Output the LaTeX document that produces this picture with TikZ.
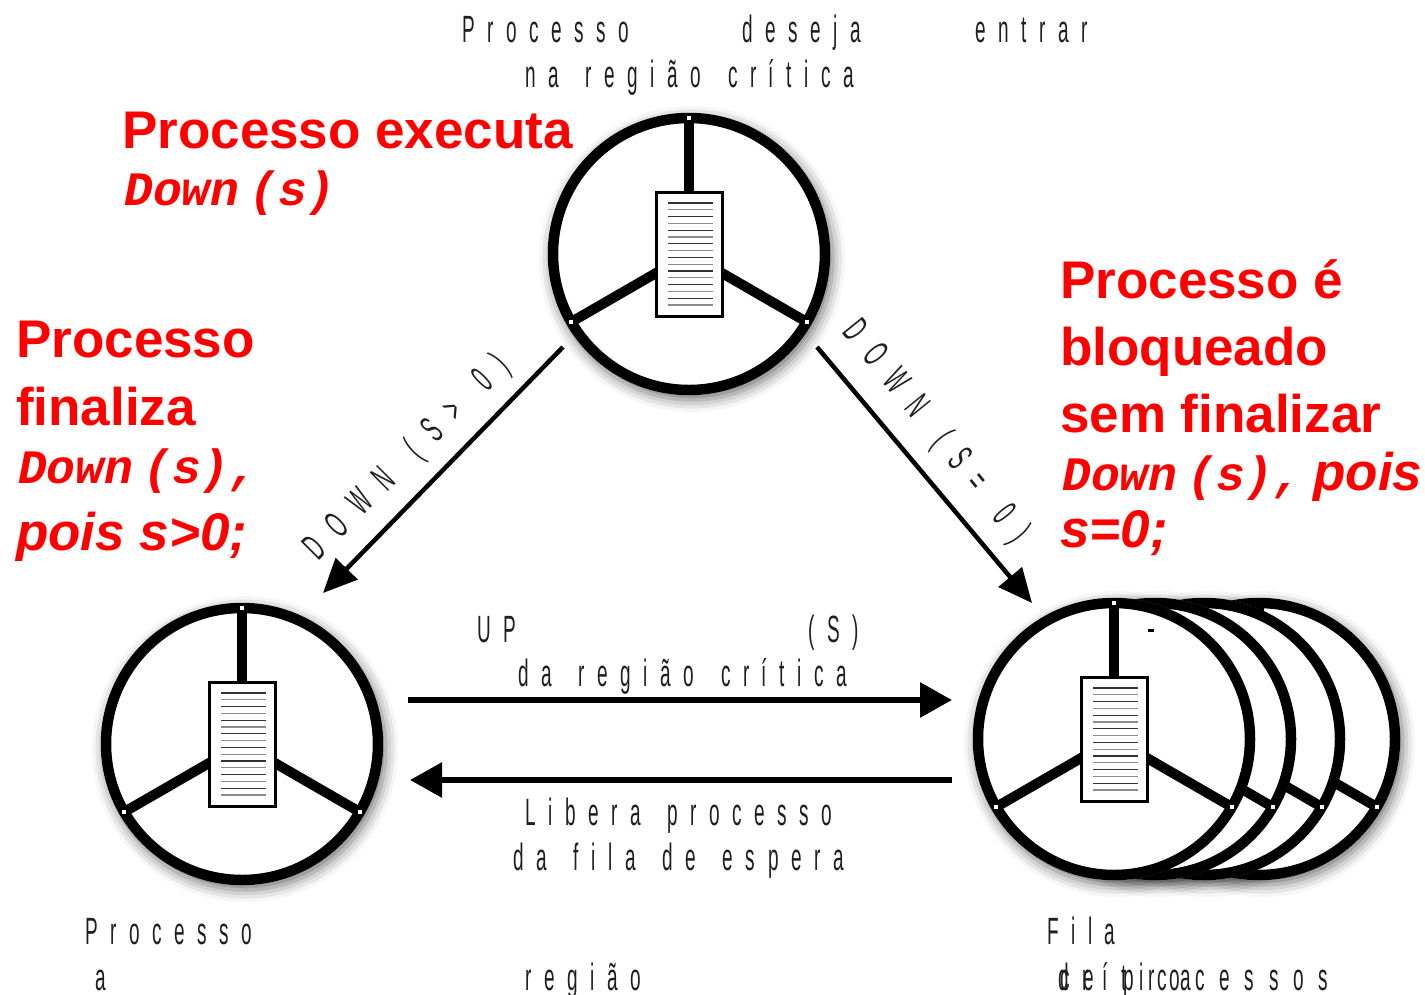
\documentclass[tikz,border=0pt]{standalone}
\usepackage{fontspec}
\setmainfont{Liberation Sans}
\newfontfamily\narrowfont[FakeStretch=0.5,LetterSpace=33]{Liberation Sans}
\newfontfamily\courfont{Liberation Mono}
\newcommand\ws{\hspace{9pt}}
\usetikzlibrary{arrows.meta,shadows.blur}
\tikzset{
  wheelshadow/.style={blur shadow={shadow xshift=3pt,shadow yshift=-5pt,shadow blur radius=12pt,shadow opacity=55}},
  ring/.style={draw=black,line width=10.5pt},
  spoke/.style={draw=black,line width=10pt},
  doc/.style={fill=white,draw=black,line width=3pt},
  docdark/.style={draw=black!80,line width=1.3pt},
  doclight/.style={draw=black!45,line width=1.3pt},
  endsq/.style={fill=white,draw=black,line width=0.6pt},
  shadowdisc/.pic={\fill[white,wheelshadow] (0,0) circle (141);},
  backwheel/.pic={
    \fill[white] (0,0) circle (141);
    \draw[ring] (0,0) circle (136);
    \foreach \a in {270,150,30} \draw[spoke] (0,0) -- (\a:136);
    \filldraw[doc] (-33,-62) rectangle (33,62);
    \foreach \a in {150,30} \filldraw[endsq,shift={(\a:136)}] (-2.5,-2.5) rectangle (2.5,2.5);
  },
  wheel/.pic={
    \fill[white] (0,0) circle (141);
    \draw[ring] (0,0) circle (136);
    \foreach \a in {270,150,30} \draw[spoke] (0,0) -- (\a:136);
    \filldraw[doc] (-33,-62) rectangle (33,62);
    \foreach \i in {0,2,...,14} \draw[docdark] (-21,-51+\i*6.8) -- (24,-51+\i*6.8);
    \foreach \i in {1,3,...,15} \draw[doclight] (-21,-51+\i*6.8) -- (24,-51+\i*6.8);
    \foreach \a in {270,150,30} \filldraw[endsq,shift={(\a:136)}] (-2.5,-2.5) rectangle (2.5,2.5);
  },
  harrow/.style={draw=black,line width=6pt,-{Triangle[length=32pt,width=34pt]}},
  darrow/.style={draw=black,line width=4.5pt,-{Triangle[length=34pt,width=30pt]}},
  redtxt/.style={anchor=base west,inner sep=0pt,text=red,font=\fontsize{53}{60}\selectfont\bfseries},
  redit/.style={redtxt,font=\fontsize{53}{60}\selectfont\bfseries\itshape},
  redcour/.style={anchor=base west,inner sep=0pt,text=red,font=\fontsize{48}{54}\selectfont\courfont\bfseries\itshape},
  thintxt/.style={anchor=base west,inner sep=0pt,text=black!88,font=\fontsize{38}{44}\selectfont\narrowfont},
  rottxt/.style={anchor=center,inner sep=0pt,text=black!88,font=\fontsize{38}{44}\selectfont\narrowfont\addfontfeature{LetterSpace=45}},
}
\begin{document}
\begin{tikzpicture}[x=1pt,y=-1pt]
\useasboundingbox (0,0) rectangle (1425,994);

% shadows of the wheels
\pic (stop) at (689,254) {shadowdisc};
\pic (sleft) at (242,744) {shadowdisc};
\pic (sq4) at (1259,739) {shadowdisc};
\pic (sq3) at (1204,739) {shadowdisc};
\pic (sq2) at (1155,739) {shadowdisc};
\pic (sq1) at (1114,739) {shadowdisc};

% wheels
\pic (wtop) at (689,254) {wheel};
\pic (wleft) at (242,744) {wheel};
\pic (wq4) at (1259,739) {backwheel};
\pic (wq3) at (1204,739) {backwheel};
\pic (wq2) at (1155,739) {backwheel};
\pic (wq1) at (1114,739) {wheel};
\fill[black] (1148,629) rectangle (1154,632);

% connectors
\coordinate (d1s) at (563,347); \coordinate (d1e) at (323,593);
\coordinate (d2s) at (817,347); \coordinate (d2e) at (1032,603);
\coordinate (h1s) at (408,700); \coordinate (h1e) at (952,700);
\coordinate (h2s) at (952,780); \coordinate (h2e) at (410,780);
\draw[darrow] (d1s) -- (d1e);
\draw[darrow] (d2s) -- (d2e);
\draw[harrow] (h1s) -- (h1e);
\draw[harrow] (h2s) -- (h2e);

% thin labels
\node[thintxt] (l1) at (462,42) {Processo};
\node[thintxt] (l2) at (742,42) {deseja};
\node[thintxt] (l3) at (975,42) {entrar};
\node[thintxt] (l4) at (525,87) {na \ws região \ws crítica};
\node[thintxt] (l5) at (477,642) {UP};
\node[thintxt] (l6) at (808,642) {(S)};
\node[thintxt] (l7) at (518,686) {da \ws região \ws crítica};
\node[thintxt] (l8) at (525,825) {Libera \ws processo};
\node[thintxt] (l9) at (513,870) {da \ws fila \ws de \ws espera};
\node[thintxt] (l10) at (85,944) {Processo};
\node[thintxt] (l11) at (95,990) {a};
\node[thintxt] (l12) at (525,990) {região};
\node[thintxt] (l13) at (1047,944) {Fila};
\node[thintxt,font=\fontsize{38}{44}\selectfont\narrowfont\addfontfeature{LetterSpace=39}] (l14) at (1058,990) {de \ws processos};
\node[thintxt,font=\fontsize{38}{44}\selectfont\narrowfont\addfontfeature{LetterSpace=35}] (l15) at (1060,990) {crítica};
\node[rottxt,rotate=45] (l16) at (408,458) {DOWN \ws(S> \ws 0)};
\node[rottxt,rotate=-51] (l17) at (935,432) {DOWN \ws(S= \ws 0)};

% red texts
\node[redtxt] (r1) at (122,148) {Processo executa};
\node[redcour] (r2) at (124,205) {Down\hspace{10pt}(s)};
\node[redtxt] (r3) at (16,357) {Processo};
\node[redtxt] (r4) at (16,425) {finaliza};
\node[redcour] (r5) at (18,483) {Down\hspace{10pt}(s),};
\node[redit] (r6) at (16,550) {pois s>0;};
\node[redtxt] (r7) at (1060,298) {Processo é};
\node[redtxt] (r8) at (1060,365) {bloqueado};
\node[redtxt] (r9) at (1060,432) {sem finalizar};
\node[redit] (r10) at (1062,490) {{\courfont\fontsize{48}{54}\selectfont Down\hspace{10pt}(s),}\hspace{-4pt} pois};
\node[redit] (r11) at (1060,547) {s=0;};
\end{tikzpicture}
\end{document}
